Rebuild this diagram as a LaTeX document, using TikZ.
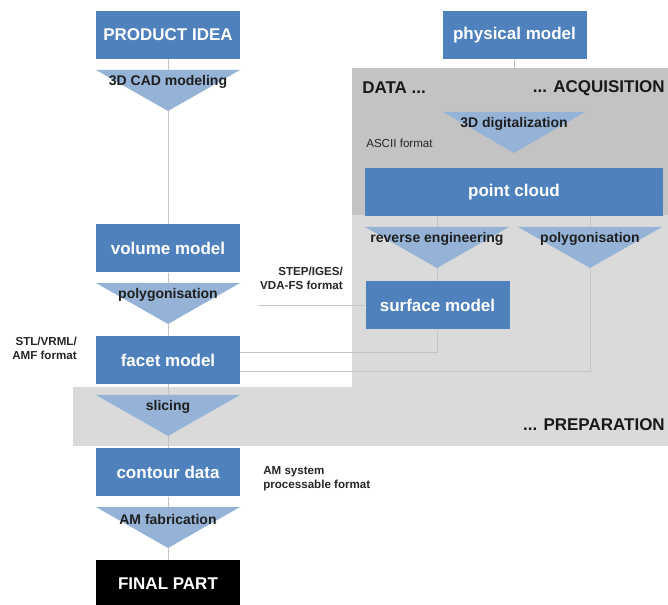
\documentclass[tikz,border=0pt]{standalone}
\usepackage{fontspec}
\setmainfont{Liberation Sans}
\usetikzlibrary{arrows, positioning}

\definecolor{boxblue}{HTML}{4F81BD}
\definecolor{funnelblue}{HTML}{95B3D7}
\definecolor{darkgrey}{HTML}{C3C3C3}
\definecolor{lightgrey}{HTML}{DADADA}
\definecolor{linegrey}{HTML}{C4C4C4}

\begin{document}
\begin{tikzpicture}[x=0.75pt, y=-0.75pt]
	\tikzset{box/.style={fill=boxblue, text=white, font=\bfseries\fontsize{12.75}{15}\selectfont, minimum width=108pt, minimum height=36pt, inner sep=0pt},
		widebox/.style={box, minimum width=223.5pt},
		funnel/.style={fill=funnelblue},
		task/.style={font=\bfseries\fontsize{10.5}{12}\selectfont, text=black!88, inner sep=0pt},
		phase/.style={font=\bfseries\fontsize{12.75}{15}\selectfont, text=black!90, inner sep=0pt},
		fmt/.style={font=\bfseries\fontsize{8.7}{10.5}\selectfont, text=black!85, inner sep=0pt, align=right},
		link/.style={draw=linegrey, line width=0.6pt}}

	\useasboundingbox (0,0) rectangle (668,605);

	% grey phase areas
	\fill[darkgrey] (352,68) rectangle (668,215);
	\fill[lightgrey] (352,215) rectangle (668,387);
	\fill[lightgrey] (73,387) rectangle (668,446);

	\node[phase, anchor=west] (data) at (362,88) {DATA ...};
	\node[phase, anchor=east] (acq) at (665,88) {... ACQUISITION};
	\node[phase, anchor=east] (prep) at (665,425) {... PREPARATION};

	% models
	\node[box] (idea) at (168,35) {PRODUCT IDEA};
	\node[box] (phys) at (514.5,35) {physical model};
	\node[widebox] (cloud) at (514,192) {point cloud};
	\node[box] (volume) at (168,248.5) {volume model};
	\node[box] (surface) at (437.5,305.5) {surface model};
	\node[box] (facet) at (168,360) {facet model};
	\node[box] (contour) at (168,472.5) {contour data};
	\node[box, fill=black] (final) at (168,584) {FINAL PART};

	\coordinate (tap) at (590,0);
	\coordinate (stepend) at (258,306);

	\draw[link] (idea) -- (volume);
	\draw[link] (volume) -- (facet);
	\draw[link] (facet) -- (contour);
	\draw[link] (contour) -- (final);
	\draw[link] (phys) -- (cloud);
	\draw[link] (surface.north |- cloud.south) -- (surface.north);
	\draw[link] (surface.south) |- ([yshift=6pt]facet.east);
	\draw[link] (cloud.south -| tap) |- ([yshift=-8.25pt]facet.east);
	\draw[link] (surface.west) -- (stepend |- surface.west);

	% process steps
	\foreach \cx/\ty/\hw/\nm/\txt in {168/70/72/cad/3D CAD modeling, 514/112/71/digit/3D digitalization,
		437/227/72/reverse/reverse engineering, 590/227/72/polycloud/polygonisation,
		168/283/72/polyvol/polygonisation, 168/395/72/slice/slicing, 168/507/72/fab/AM fabrication} {
		\fill[funnel] (\cx-\hw,\ty) -- (\cx+\hw,\ty) -- (\cx,\ty+41) -- cycle;
		\node[task] (\nm) at (\cx,\ty+12) {\txt};
	}

	% formats
	\node[font=\fontsize{8.7}{10.5}\selectfont, text=black!85, inner sep=0pt, anchor=west] (ascii) at (366,143) {ASCII format};
	\node[fmt, anchor=east] (stepfmt) at (343,278) {STEP/IGES/\\VDA-FS format};
	\node[fmt, anchor=east] (stlfmt) at (77,348.5) {STL/VRML/\\AMF format};
	\node[fmt, anchor=west, align=left] (amfmt) at (263,479) {AM system\\processable format};
\end{tikzpicture}
\end{document}
